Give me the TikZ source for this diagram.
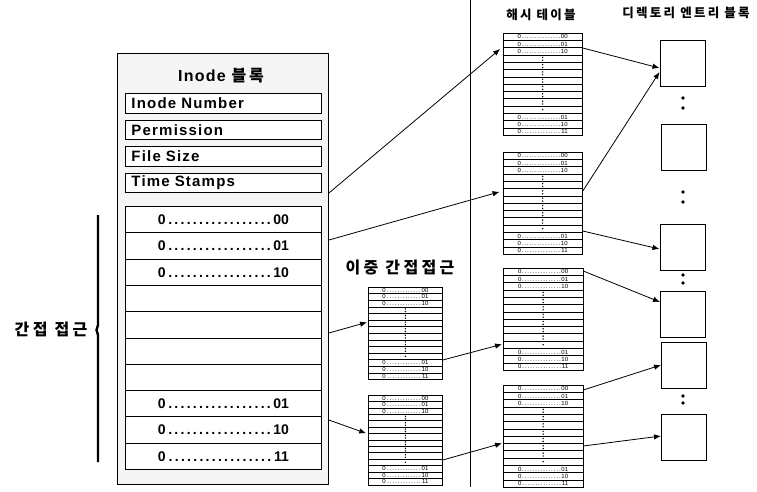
\documentclass[tikz,border=0pt]{standalone}
\usepackage{fontspec}
\setmainfont{Liberation Sans}
\newfontfamily\labfont{Liberation Sans}[LetterSpace=8]
\newfontfamily\krhead{Noto Sans CJK KR}[LetterSpace=18]
\newfontfamily\krbig{Noto Sans CJK KR}[LetterSpace=21]
\usetikzlibrary{arrows.meta,calc}

\tikzset{
  frame/.style={draw, line width=0.9pt, inner sep=0pt, anchor=north west},
  field/.style={frame, fill=white, minimum height=19.5pt, inner xsep=6pt,
    text width=184pt, align=left, font=\labfont\bfseries\fontsize{15}{15}\selectfont},
  entry/.style={frame, fill=white, minimum width=196pt, minimum height=26.3pt},
  entrytxt/.style={inner sep=0pt, font=\bfseries\fontsize{14}{14}\selectfont},
  tab/.style={frame, fill=white, line width=0.8pt},
  rowline/.style={line width=0.6pt},
  tinytxt/.style={inner sep=0pt, font=\fontsize{6}{6}\selectfont},
  dirbox/.style={frame, fill=white, minimum width=45pt, minimum height=45.5pt},
  head/.style={inner sep=0pt, font=\krhead\bfseries\fontsize{12.5}{12.5}\selectfont},
  bighead/.style={inner sep=0pt, font=\krbig\bfseries\fontsize{16}{16}\selectfont},
  conn/.style={line width=0.8pt, -{Latex[length=7pt,width=5.5pt]}},
}

% a small block table: name, left, top, width, row height, label width
\newcommand\hashtab[6]{%
  \node[tab, minimum width=#4pt, minimum height={14*#5pt}] (#1) at (#2,#3) {};
  \foreach \kk in {1,...,13}
    \draw[rowline] ($(#1.north west)+(0,\kk*#5)$) -- ($(#1.north east)+(0,\kk*#5)$);
  \foreach \rr/\lbl in {1/00,2/01,3/10,12/01,13/10,14/11}
    \node[tinytxt] (#1-\rr) at ($(#1.north)+(0,{(\rr-0.5)*#5})$) {\makebox[#6pt]{0\dotfill\lbl}};
  \foreach \rr in {4,...,10}
    \fill ($(#1.north)+(0,{(\rr-0.67)*#5})$) circle (0.8pt)
          ($(#1.north)+(0,{(\rr-0.28)*#5})$) circle (0.8pt);
  \fill ($(#1.north)+(0,{10.5*#5})$) circle (0.8pt);
}

\begin{document}
\begin{tikzpicture}[x=1pt,y=-1pt]
\useasboundingbox (0,0) rectangle (757,491);

% ---------- inode block ----------
\node[frame, fill=black!4, minimum width=211pt, minimum height=431pt] (inode) at (117,53) {};
\node[inner sep=0pt, font=\labfont\bfseries\fontsize{16}{16}\selectfont] (title) at (221,76)
  {Inode {\krhead 블록}};

\node[field] (fnum)  at (125,93)    {Inode Number};
\node[field] (fperm) at (125,119.5) {Permission};
\node[field] (fsize) at (125,146)   {File Size};
\node[field] (ftime) at (125,172.5) {Time Stamps};

\foreach \ii in {1,...,10}
  \node[entry] (e\ii) at (125,{206+(\ii-1)*26.3}) {};
\foreach \ii/\lbl in {1/00,2/01,3/10,8/01,9/10,10/11}
  \node[entrytxt] (et\ii) at (e\ii.center) {\makebox[131pt]{0\dotfill\lbl}};

% brace and its label
\draw[line width=2.4pt] (98,215) -- (98,325) -- (96.5,330) -- (98,335) -- (98,462);
\node[bighead] (indir) at (51,329) {간접 접근};

% ---------- double indirect tables ----------
\node[bighead] (dbl) at (400,268) {이중 간접접근};
\hashtab{mtA}{368}{287}{74}{6.6}{46}
\hashtab{mtB}{368}{395}{74}{6.4}{46}

% separator
\draw[line width=0.8pt] (470,0) -- (470,487);

% ---------- hash tables ----------
\node[head] (hhash) at (541,15) {해시 테이블};
\hashtab{ht1}{502.5}{33}{79.5}{7.3}{50}
\hashtab{ht2}{502.5}{152}{79.5}{7.3}{50}
\hashtab{ht3}{503}{268}{79.5}{7.3}{50}
\hashtab{ht4}{503}{385}{79.5}{7.3}{50}

% ---------- directory entry blocks ----------
\node[head] (hdir) at (686,13) {디렉토리 엔트리 블록};
\node[dirbox] (b1) at (659.5,40) {};
\node[dirbox] (b2) at (661,124) {};
\node[dirbox] (b3) at (659.5,224) {};
\node[dirbox] (b4) at (660,291) {};
\node[dirbox] (b5) at (661,342) {};
\node[dirbox] (b6) at (661,414) {};
\foreach \yy in {98,108,192,202,275,283,396,403}
  \fill (683,\yy) circle (1.9pt);

% ---------- pointers ----------
\draw[conn, shorten >=3pt] ([yshift=-140pt]inode.north east) -- ([yshift=-14pt]ht1.north west);
\draw[conn, shorten >=3pt] ([yshift=-187pt]inode.north east) -- ([yshift=-39pt]ht2.north west);
\draw[conn, shorten >=1pt] ([yshift=-280pt]inode.north east) -- ([yshift=-35pt]mtA.north west);
\draw[conn, shorten >=2pt] ([yshift=-367pt]inode.north east) -- ([yshift=-39pt]mtB.north west);

\draw[conn, shorten >=1pt] ([yshift=-73pt]mtA.north east) -- ([yshift=-76pt]ht3.north west);
\draw[conn, shorten >=1pt] ([yshift=-65pt]mtB.north east) -- ([yshift=-58pt]ht4.north west);

\draw[conn] ([yshift=-15pt]ht1.north east) -- ([yshift=-28pt]b1.north west);
\draw[conn] ([yshift=-39pt]ht2.north east) -- ([yshift=-32pt]b1.north west);
\draw[conn] ([yshift=-79pt]ht2.north east) -- ([yshift=-25pt]b3.north west);
\draw[conn] ([yshift=-3pt]ht3.north east)  -- ([yshift=-11pt]b4.north west);
\draw[conn] ([yshift=-5pt]ht4.north east)  -- ([yshift=-23pt]b5.north west);
\draw[conn] ([yshift=-61pt]ht4.north east) -- ([yshift=-22pt]b6.north west);
\end{tikzpicture}
\end{document}
